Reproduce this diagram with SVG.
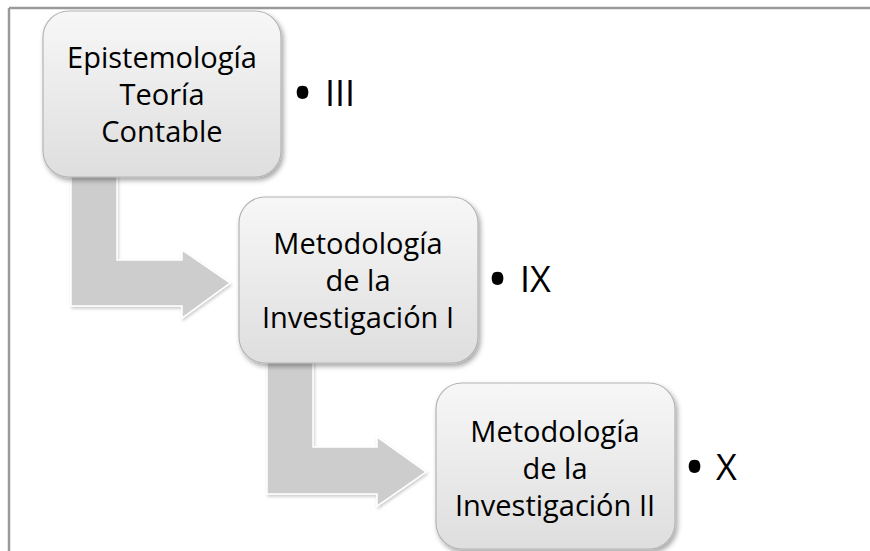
<svg xmlns="http://www.w3.org/2000/svg" width="870" height="551" viewBox="0 0 870 551">
  <defs>
    <linearGradient id="boxGrad" x1="0" y1="0" x2="0" y2="1">
      <stop offset="0" stop-color="#f7f7f7"/>
      <stop offset="1" stop-color="#dedede"/>
    </linearGradient>
    <filter id="shadow" x="-10%" y="-10%" width="125%" height="125%">
      <feDropShadow dx="2" dy="3" stdDeviation="2.5" flood-color="#000" flood-opacity="0.35"/>
    </filter>
    <filter id="ashadow" x="-10%" y="-10%" width="125%" height="125%">
      <feDropShadow dx="1" dy="2" stdDeviation="1.5" flood-color="#000" flood-opacity="0.2"/>
    </filter>
  </defs>
  <style>
    .frame { stroke: #9a9a9a; stroke-width: 2.5; fill: none; }
    .box { fill: url(#boxGrad); stroke: #b4b4b4; stroke-width: 1.2; filter: url(#shadow); }
    .arrow { fill: #cdcdcd; stroke: #ffffff; stroke-width: 1.5; filter: url(#ashadow); }
    .lbl { font-family: "Open Sans", "Liberation Sans", sans-serif; font-size: 29px; fill: #000; text-anchor: middle; }
    .bul { font-family: "Open Sans", "Liberation Sans", sans-serif; font-size: 36px; fill: #000; }
    .dot { font-family: "Open Sans", "Liberation Sans", sans-serif; font-size: 56px; fill: #000; }
  </style>
  <rect width="870" height="551" fill="#ffffff"/>
  <g id="frame">
    <line class="frame" x1="9" y1="8" x2="870" y2="8"/>
    <line class="frame" x1="9" y1="8" x2="9" y2="551"/>
  </g>
  <g id="connectors">
    <polygon class="arrow" points="71,150 71,306 182,306 182,318 230,283 182,250 182,260 117,260 117,150"/>
    <polygon class="arrow" points="267,340 267,494 377,494 377,506 426,472 377,437 377,447 313,447 313,340"/>
  </g>
  <g id="node1">
    <rect class="box" x="43" y="11" width="238" height="166" rx="26" ry="26"/>
    <text class="lbl" x="162" y="68">Epistemología</text>
    <text class="lbl" x="162" y="105">Teoría</text>
    <text class="lbl" x="162" y="142">Contable</text>
  </g>
  <g id="node2">
    <rect class="box" x="239" y="197" width="239" height="166" rx="26" ry="26"/>
    <text class="lbl" x="358" y="254">Metodología</text>
    <text class="lbl" x="358" y="291">de la</text>
    <text class="lbl" x="358" y="328">Investigación I</text>
  </g>
  <g id="node3">
    <rect class="box" x="436" y="383" width="239" height="166" rx="26" ry="26"/>
    <text class="lbl" x="555" y="442">Metodología</text>
    <text class="lbl" x="555" y="479">de la</text>
    <text class="lbl" x="555" y="516">Investigación II</text>
  </g>
  <g id="bullet1">
    <text class="dot" x="292" y="113">•</text>
    <text class="bul" x="325" y="106">III</text>
  </g>
  <g id="bullet2">
    <text class="dot" x="487" y="299">•</text>
    <text class="bul" x="520" y="292">IX</text>
  </g>
  <g id="bullet3">
    <text class="dot" x="684" y="487">•</text>
    <text class="bul" x="716" y="480">X</text>
  </g>
</svg>
